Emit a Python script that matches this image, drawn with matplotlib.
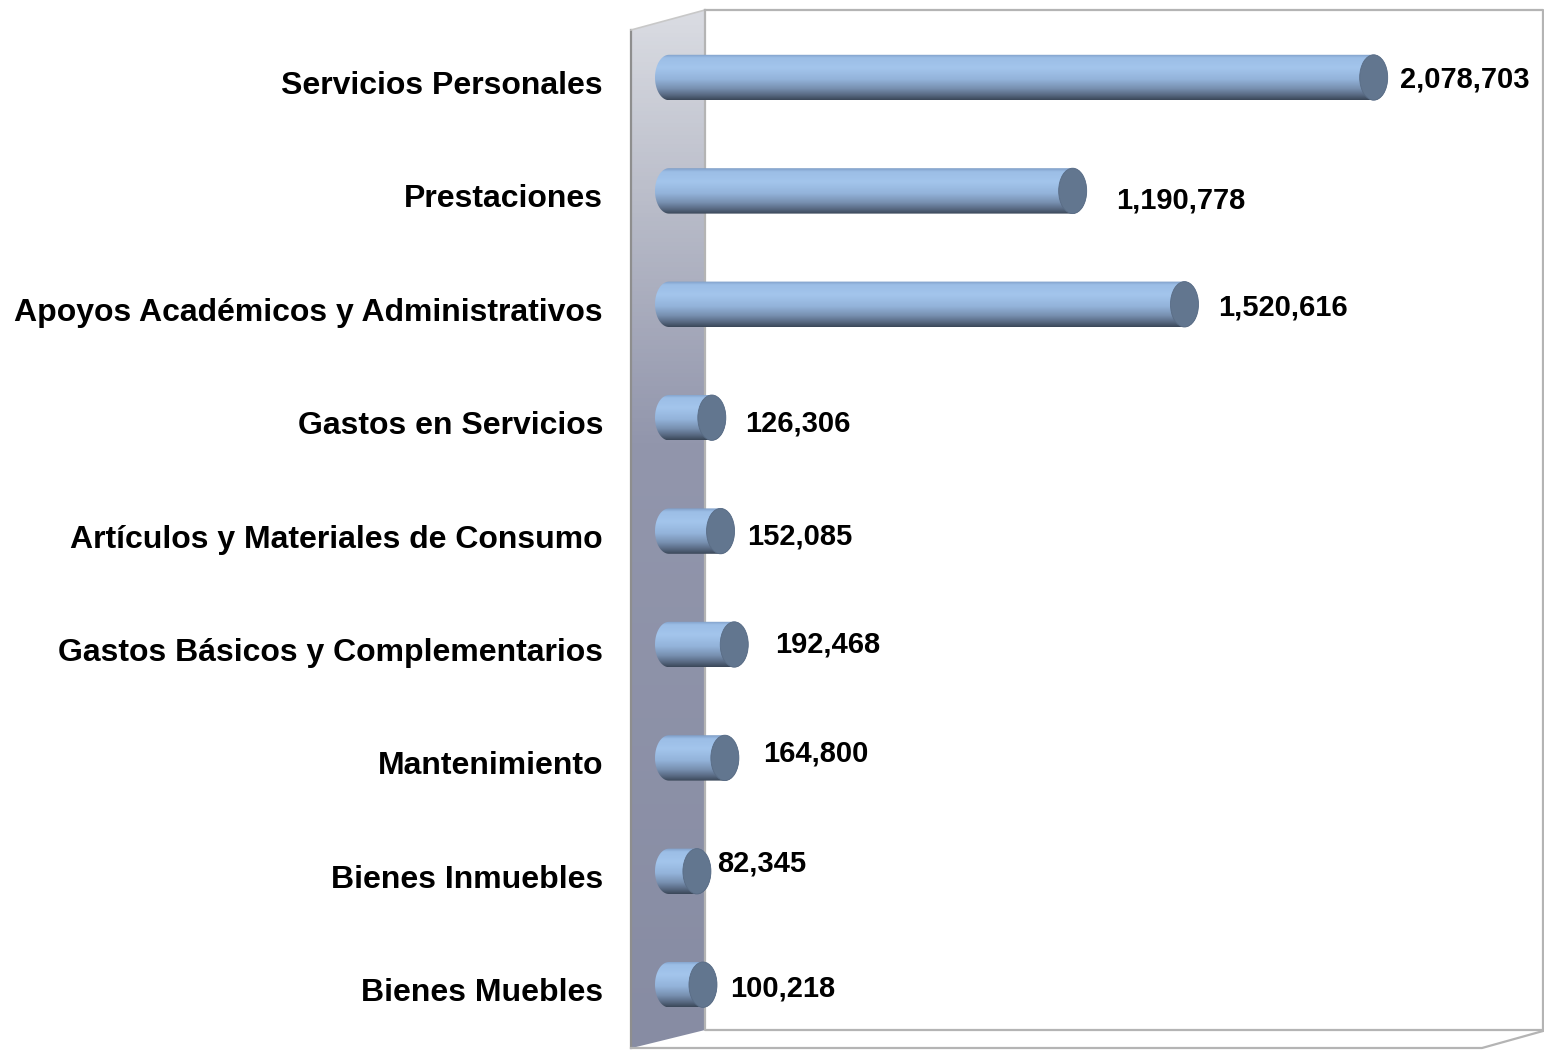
import numpy as np
import matplotlib
matplotlib.use("Agg")
import matplotlib.pyplot as plt
from matplotlib.path import Path
from matplotlib.patches import PathPatch, Ellipse, Polygon
from matplotlib.colors import LinearSegmentedColormap

plt.rcParams['font.family'] = ['Liberation Sans', 'DejaVu Sans']

# data (top to bottom)
categories = ["Servicios Personales", "Prestaciones", "Apoyos Académicos y Administrativos",
              "Gastos en Servicios", "Artículos y Materiales de Consumo",
              "Gastos Básicos y Complementarios", "Mantenimiento",
              "Bienes Inmuebles", "Bienes Muebles"]
values = [2078703, 1190778, 1520616, 126306, 152085, 192468, 164800, 82345, 100218]

# label nudges in pixels (gap after cap, baseline below bar centre), as in the original
label_dx = [12, 29, 20, 19, 13, 27, 24, 6, 13]
label_dy = [10.5, 18, 10.7, 14, 13, 7.5, 4, 0, 12]

W, H = 1544, 1050
x0_px = 669.0          # pixel of value 0
px_per_unit = 339e-6   # pixels per value unit
y0_px, step_px = 77.5, 113.4

fig = plt.figure(figsize=(W / 100, H / 100), dpi=100)
ax = fig.add_axes([0, 0, 1, 1])
ax.axis("off")


def fr(x, y):
    return (x / W, 1 - y / H)


# left wall with gradient
wall = [fr(632, 30), fr(705, 10), fr(705, 1030), fr(632, 1048)]
wall_cmap = LinearSegmentedColormap.from_list(
    "wall", [(0, "#dcdee4"), (0.2, "#b8bbc8"), (0.42, "#9296ac"), (1, "#878ca3")])
grad = np.linspace(0, 1, 256).reshape(-1, 1)
wall_img = ax.imshow(grad, cmap=wall_cmap, extent=(0, 1, 0, 1), transform=ax.transAxes,
                     aspect="auto", zorder=1)
wall_patch = Polygon(wall, closed=True, transform=ax.transAxes, facecolor="none",
                     edgecolor="none", zorder=1)
ax.add_patch(wall_patch)
wall_img.set_clip_path(wall_patch)
ax.plot(*zip(fr(631, 30), fr(631, 1048)), transform=ax.transAxes, color="#8e8e8e", lw=1.6, zorder=2)
ax.plot(*zip(fr(631, 30), fr(705, 10)), transform=ax.transAxes, color="#c8c8c8", lw=1.2, zorder=2)

# back wall frame and floor
ax.plot(*zip(fr(705, 10), fr(1543, 10), fr(1543, 1030), fr(705, 1030), fr(705, 10)),
        transform=ax.transAxes, color="#b4b4b4", lw=1.6, zorder=2)
ax.plot(*zip(fr(631, 1048), fr(1482, 1048), fr(1543, 1031)),
        transform=ax.transAxes, color="#b4b4b4", lw=1.6, zorder=2)

# cylinders
body_cmap = LinearSegmentedColormap.from_list(
    "body", [(0, "#7e9dc6"), (0.08, "#9cbee6"), (0.3, "#a3c5ec"), (0.55, "#93b3da"),
             (0.75, "#7890b0"), (0.9, "#56677f"), (1, "#3a4658")])
a = 14 / px_per_unit
b = 22.7 / step_px


def stadium(x_end, yc, n=60):
    t = np.linspace(np.pi / 2, 3 * np.pi / 2, n)
    left = np.column_stack([a * np.cos(t), yc - b * np.sin(t)])
    t2 = np.linspace(-np.pi / 2, np.pi / 2, n)
    right = np.column_stack([x_end + a * np.cos(t2), yc - b * np.sin(t2)])
    return Path(np.vstack([left, right, left[:1]]))


for i, v in enumerate(values):
    patch = PathPatch(stadium(v, i), facecolor="none", edgecolor="none", zorder=3)
    ax.add_patch(patch)
    img = ax.imshow(grad, cmap=body_cmap, extent=(-a, v + a, i + b, i - b),
                    aspect="auto", zorder=3, interpolation="bilinear")
    img.set_clip_path(patch)
    ax.add_patch(Ellipse((v, i), 2 * a, 2 * b, facecolor="#62768f",
                         edgecolor="#596c85", lw=0.6, zorder=4))
    ax.annotate(f"{v:,}", xy=(v + a, i), xytext=(label_dx[i] * 0.72, -label_dy[i] * 0.72),
                textcoords="offset points", ha="left", va="baseline",
                fontsize=21, fontweight="bold", zorder=5)
    ax.annotate(categories[i], xy=(603 / W, i), xycoords=("axes fraction", "data"),
                xytext=(0, -16.5 * 0.72), textcoords="offset points",
                ha="right", va="baseline", fontsize=23, fontweight="bold")

ax.set_xlim(-x0_px / px_per_unit, (W - x0_px) / px_per_unit)
ax.set_ylim((H - y0_px) / step_px, -y0_px / step_px)

fig.savefig("out.png", dpi=100)
